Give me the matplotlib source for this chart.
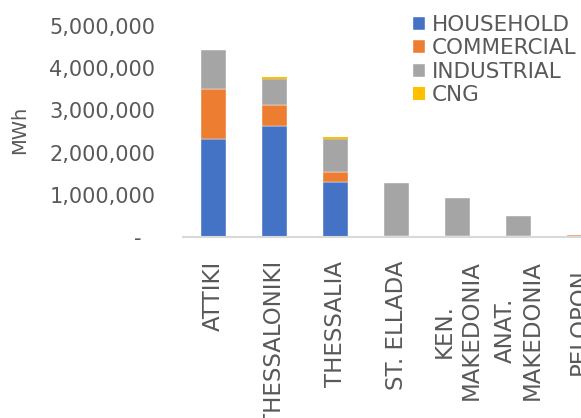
import numpy as np
import matplotlib.pyplot as plt
from matplotlib.ticker import FuncFormatter

regions = ["ATTIKI", "THESSALONIKI", "THESSALIA", "ST. ELLADA",
           "KEN.\nMAKEDONIA", "ANAT.\nMAKEDONIA", "PELOPON."]
household = [2320000, 2620000, 1310000, 0, 0, 0, 0]
commercial = [1180000, 500000, 230000, 15000, 15000, 35000, 40000]
industrial = [940000, 635000, 785000, 1260000, 915000, 465000, 10000]
cng = [0, 45000, 45000, 0, 0, 0, 0]

series = [("HOUSEHOLD", household, "#4472C4"),
          ("COMMERCIAL", commercial, "#ED7D31"),
          ("INDUSTRIAL", industrial, "#A5A5A5"),
          ("CNG", cng, "#FFC000")]

txt = "#595959"
plt.rcParams["font.family"] = "DejaVu Sans"

fig = plt.figure(figsize=(5.81, 4.18), dpi=100)
ax = fig.add_axes([183 / 581, 1 - 237 / 418, 7 * 61 / 581, 211 / 418])

ind = np.arange(len(regions))
bottom = np.zeros(len(regions))
for name, vals, col in series:
    # thin light seam between the stacked segments
    lw = 0 if name == "CNG" else 0.3
    ax.bar(ind, vals, 0.4, bottom=bottom, color=col, label=name,
           edgecolor="white", linewidth=lw)
    bottom += np.array(vals)

ax.set_xlim(-0.5, 6.5)
ax.set_ylim(0, 5000000)
ax.set_yticks(np.arange(0, 5000001, 1000000))
ax.yaxis.set_major_formatter(FuncFormatter(
    lambda v, p: "-  " if v == 0 else f"{int(v):,}"))
ax.tick_params(axis="y", length=0, pad=20, labelsize=15, labelcolor=txt)

ax.set_xticks(ind)
ax.set_xticklabels(regions, rotation=90, fontsize=16.5, color=txt,
                   ha="center", va="top", multialignment="center")
ax.tick_params(axis="x", length=0, pad=17)

for s in ["top", "right", "left"]:
    ax.spines[s].set_visible(False)
ax.spines["bottom"].set_color("#D9D9D9")
ax.spines["bottom"].set_linewidth(1.5)

fig.text(20 / 581, 1 - 130 / 418, "MWh", rotation=90, fontsize=14,
         color=txt, ha="center", va="center")

leg = fig.legend(loc="upper left", bbox_to_anchor=(413 / 581, 1 - 15 / 418),
                 frameon=False, fontsize=15.5, labelcolor=txt,
                 handlelength=0.56, handleheight=0.56, handletextpad=0.3,
                 labelspacing=0.16, borderpad=0, borderaxespad=0)

plt.savefig("out.png", dpi=100)
